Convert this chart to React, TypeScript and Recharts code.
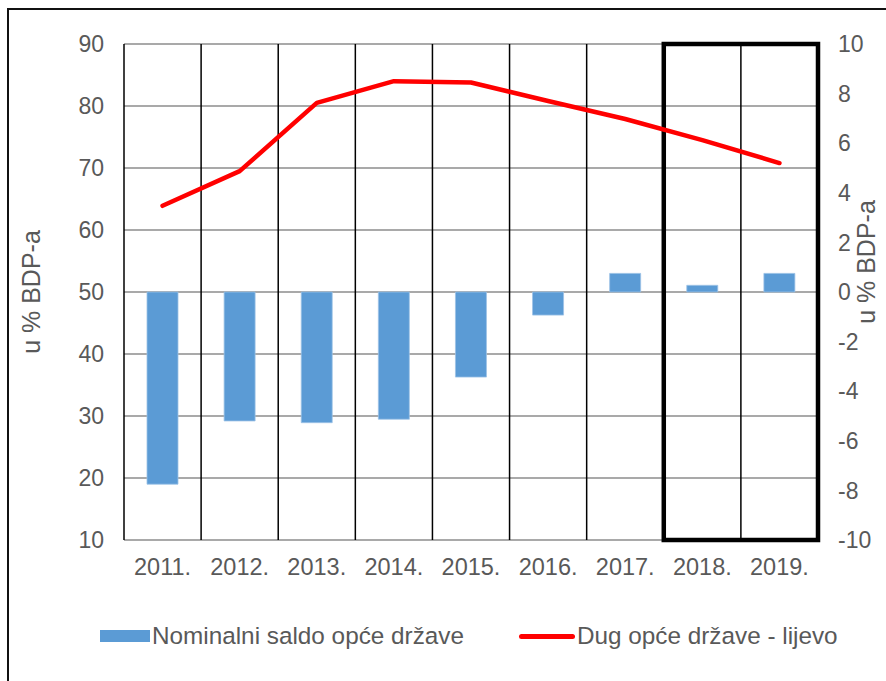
import React from "react";
import {
  ComposedChart,
  Bar,
  Line,
  XAxis,
  YAxis,
  CartesianGrid,
  ReferenceArea,
  Legend,
} from "recharts";

const years = ["2011.", "2012.", "2013.", "2014.", "2015.", "2016.", "2017.", "2018.", "2019."];
const nominalBalance = [-7.75, -5.2, -5.27, -5.13, -3.43, -0.93, 0.75, 0.27, 0.75];
const generalDebt = [63.9, 69.5, 80.5, 84.0, 83.8, 80.8, 77.9, 74.5, 70.8];
const leftTicks = [10, 20, 30, 40, 50, 60, 70, 80, 90];
const rightTicks = [-10, -8, -6, -4, -2, 0, 2, 4, 6, 8, 10];
const gridBoundaries = [0, 1, 2, 3, 4, 5, 6, 7, 8, 9];
const balanceName = "Nominalni saldo opće države";
const debtName = "Dug opće države - lijevo";
const axisTitle = "u % BDP-a";

const data = years.map((y, i) => ({
  year: y,
  idx: i + 0.5,
  balance: nominalBalance[i],
  debt: generalDebt[i],
}));

const FONT = "'Liberation Sans', Arial, sans-serif";
const TEXT = "#595959";

const LeftTitle = (props: any) => {
  const vb = props.viewBox || {};
  const cx = vb.x + 31;
  const cy = vb.y + vb.height / 2;
  return (
    <text
      x={cx}
      y={cy}
      transform={`rotate(-90 ${cx} ${cy})`}
      textAnchor="middle"
      dominantBaseline="central"
      fill={TEXT}
      fontSize={25}
      fontFamily={FONT}
    >
      {axisTitle}
    </text>
  );
};

const RightTitle = (props: any) => {
  const vb = props.viewBox || {};
  const cx = vb.x + 48;
  const cy = vb.y + vb.height / 2 - 30;
  return (
    <text
      x={cx}
      y={cy}
      transform={`rotate(-90 ${cx} ${cy})`}
      textAnchor="middle"
      dominantBaseline="central"
      fill={TEXT}
      fontSize={25}
      fontFamily={FONT}
    >
      {axisTitle}
    </text>
  );
};

const LegendContent = () => (
  <div
    style={{
      display: "flex",
      alignItems: "center",
      paddingLeft: 100,
      fontFamily: FONT,
      fontSize: 24.3,
      color: TEXT,
      whiteSpace: "nowrap",
    }}
  >
    <div style={{ display: "flex", alignItems: "center" }}>
      <div style={{ width: 50, height: 12, background: "#5B9BD5", marginRight: 2 }} />
      <span>{balanceName}</span>
    </div>
    <div style={{ display: "flex", alignItems: "center", marginLeft: 55 }}>
      <div
        style={{
          width: 56,
          height: 5,
          background: "#FF0000",
          borderRadius: 3,
          marginRight: 2,
        }}
      />
      <span>{debtName}</span>
    </div>
  </div>
);

export default function App() {
  return (
    <div style={{ position: "absolute", left: 0, top: 0, width: 886, height: 681, overflow: "hidden", background: "#fff" }}>
      <div
        style={{
          position: "absolute",
          left: 7,
          top: 8,
          width: 900,
          height: 700,
          border: "2px solid #111",
          boxSizing: "border-box",
        }}
      />
      <div style={{ position: "absolute", left: 0, top: 0 }}>
        <ComposedChart
          width={886}
          height={681}
          data={data}
          margin={{ top: 44, right: 0, bottom: 101, left: 0 }}
        >
          <XAxis
            xAxisId="grid"
            dataKey="idx"
            type="number"
            domain={[0, 9]}
            ticks={gridBoundaries}
            hide
          />
          <XAxis
            dataKey="year"
            type="category"
            axisLine={false}
            tickLine={false}
            tickSize={0}
            tickMargin={18}
            height={40}
            interval={0}
            tick={{ fill: TEXT, fontSize: 23.5, fontFamily: FONT }}
          />
          <YAxis
            yAxisId="left"
            orientation="left"
            domain={[10, 90]}
            ticks={leftTicks}
            width={124}
            axisLine={false}
            tickLine={false}
            tickSize={0}
            tickMargin={20}
            tick={{ fill: TEXT, fontSize: 23, fontFamily: FONT }}
            label={LeftTitle}
          />
          <YAxis
            yAxisId="right"
            orientation="right"
            domain={[-10, 10]}
            ticks={rightTicks}
            width={68}
            axisLine={false}
            tickLine={false}
            tickSize={0}
            tickMargin={20}
            tick={{ fill: TEXT, fontSize: 23, fontFamily: FONT, textAnchor: "start" }}
            label={RightTitle}
          />
          <CartesianGrid
            yAxisId="left"
            vertical={false}
            stroke="#8c8c8c"
            strokeWidth={1.4}
          />
          <CartesianGrid
            xAxisId="grid"
            yAxisId="left"
            horizontal={false}
            stroke="#000"
            strokeWidth={1.5}
          />
          <Bar
            yAxisId="right"
            dataKey="balance"
            name={balanceName}
            fill="#5B9BD5"
            stroke="#9dc3e6"
            strokeWidth={0.8}
            barSize={31}
            isAnimationActive={false}
          />
          <Line
            yAxisId="left"
            dataKey="debt"
            name={debtName}
            stroke="#FF0000"
            strokeWidth={4.5}
            strokeLinecap="round"
            strokeLinejoin="round"
            dot={false}
            activeDot={false}
            isAnimationActive={false}
          />
          <ReferenceArea
            yAxisId="left"
            x1="2018."
            x2="2019."
            fill="none"
            fillOpacity={0}
            stroke="#000"
            strokeWidth={4.5}
            ifOverflow="visible"
          />
          <Legend
            verticalAlign="middle"
            layout="horizontal"
            content={LegendContent}
            wrapperStyle={{ top: 622, left: 0, width: 886, height: 30 }}
          />
        </ComposedChart>
      </div>
    </div>
  );
}
